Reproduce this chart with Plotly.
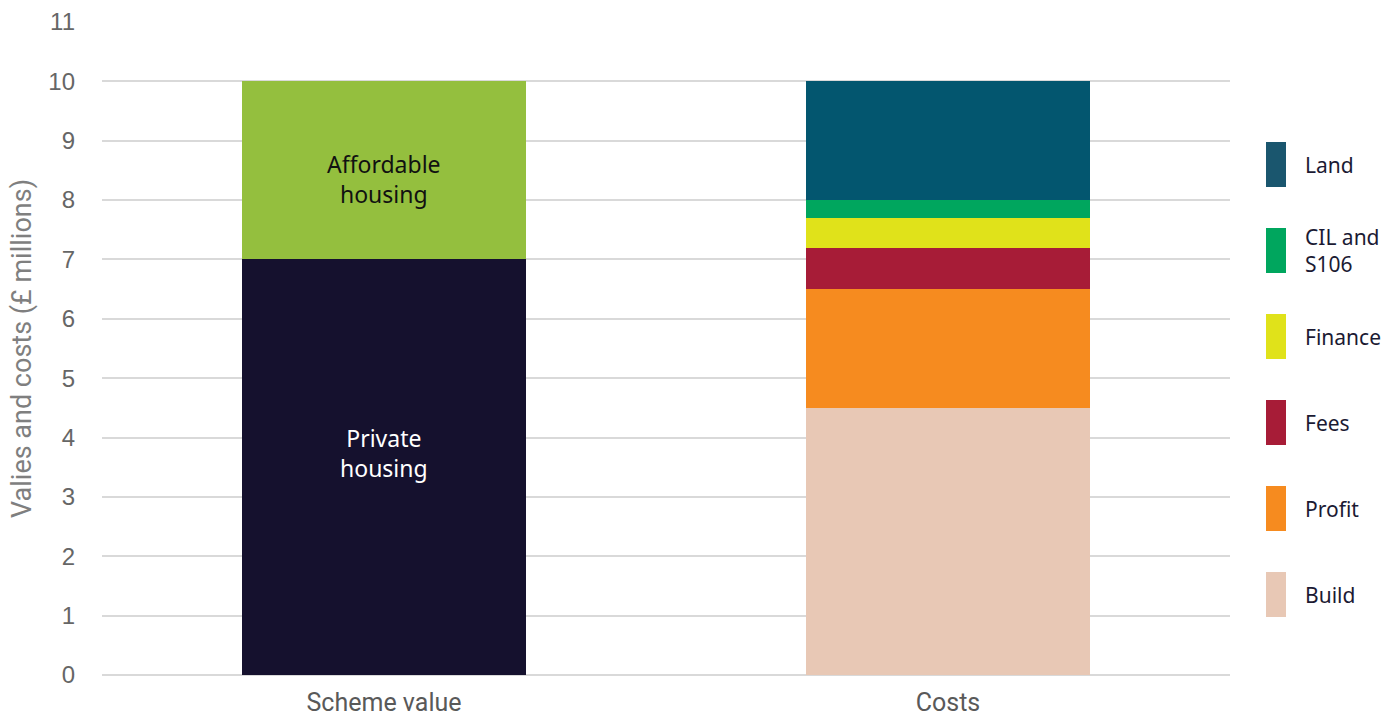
import plotly.graph_objects as go

categories = ["Scheme value", "Costs"]

value_names = ["Private housing", "Affordable housing"]
value_values = [7.0, 3.0]
value_colors = ["#15112E", "#94BF3E"]
value_text_colors = ["#FFFFFF", "#111111"]
value_labels = ["Private<br>housing", "Affordable<br>housing"]

cost_names = ["Build", "Profit", "Fees", "Finance", "CIL and S106", "Land"]
cost_values = [4.5, 2.0, 0.7, 0.5, 0.3, 2.0]
cost_colors = ["#E8C8B5", "#F68B1F", "#A71C37", "#E0E21A", "#00A65E", "#03566F"]
legend_colors = ["#E8C8B5", "#F68B1F", "#A71C37", "#E0E21A", "#00A65E", "#1A566E"]
legend_labels = ["Build", "Profit", "Fees", "Finance", "CIL and<br>S106", "Land"]

y_ticks = list(range(0, 12))

fig = go.Figure()
for n, v, c in zip(value_names, value_values, value_colors):
    fig.add_trace(go.Bar(x=[categories[0]], y=[v], name=n, marker=dict(color=c, line=dict(width=0)),
                         width=0.504, showlegend=False))
for n, v, c in zip(cost_names, cost_values, cost_colors):
    fig.add_trace(go.Bar(x=[categories[1]], y=[v], name=n, marker=dict(color=c, line=dict(width=0)),
                         width=0.504, showlegend=False))

# in-bar labels
base = 0
offsets = [0.24, -0.14]
for v, lab, tc, off in zip(value_values, value_labels, value_text_colors, offsets):
    fig.add_annotation(x=categories[0], y=base + v / 2 + off, text=lab, showarrow=False,
                       font=dict(family="Noto Sans, Open Sans, sans-serif", size=23, color=tc))
    base += v

# manual legend (top to bottom: Land ... Build)
W, H = 1400, 722
l, r, t, b = 102, 170, 22, 47
pw, ph = W - l - r, H - t - b
def px_x(x): return (x - l) / pw
def px_y(y): return (H - b - y) / ph
for i, (lab, col) in enumerate(zip(reversed(legend_labels), reversed(legend_colors))):
    top = 142 + 86 * i
    fig.add_shape(type="rect", xref="paper", yref="paper",
                  x0=px_x(1266), x1=px_x(1286), y0=px_y(top + 45), y1=px_y(top),
                  fillcolor=col, line=dict(width=0))
    fig.add_annotation(xref="paper", yref="paper", x=px_x(1303), y=px_y(top + 22.5),
                       xanchor="left", yanchor="middle", text=lab, align="left", showarrow=False,
                       font=dict(family="Noto Sans, Inter, sans-serif", size=21, color="#1B1A33"))

fig.update_layout(
    barmode="stack",
    width=W, height=H,
    margin=dict(l=l, r=r, t=t, b=b, autoexpand=False),
    plot_bgcolor="white", paper_bgcolor="white",
    xaxis=dict(type="category", range=[-0.5, 1.5], showgrid=False, showline=False, ticks="",
               ticklabelstandoff=10, automargin=False,
               tickfont=dict(family="Roboto, sans-serif", size=25, color="#595959")),
    yaxis=dict(range=[0, 11], tickvals=y_ticks, showgrid=True, gridcolor="#D9D9D9", gridwidth=2,
               zeroline=True, zerolinecolor="#D9D9D9", zerolinewidth=2, showline=False,
               ticks="", ticklabelstandoff=26, automargin=False,
               tickfont=dict(family="Liberation Sans, Arial, sans-serif", size=24, color="#666666"),
               title=dict(text="Valies and costs (£ millions)", standoff=8,
                          font=dict(family="Roboto, sans-serif", size=27, color="#7F7F7F"))),
)

fig.write_html("out.html")
